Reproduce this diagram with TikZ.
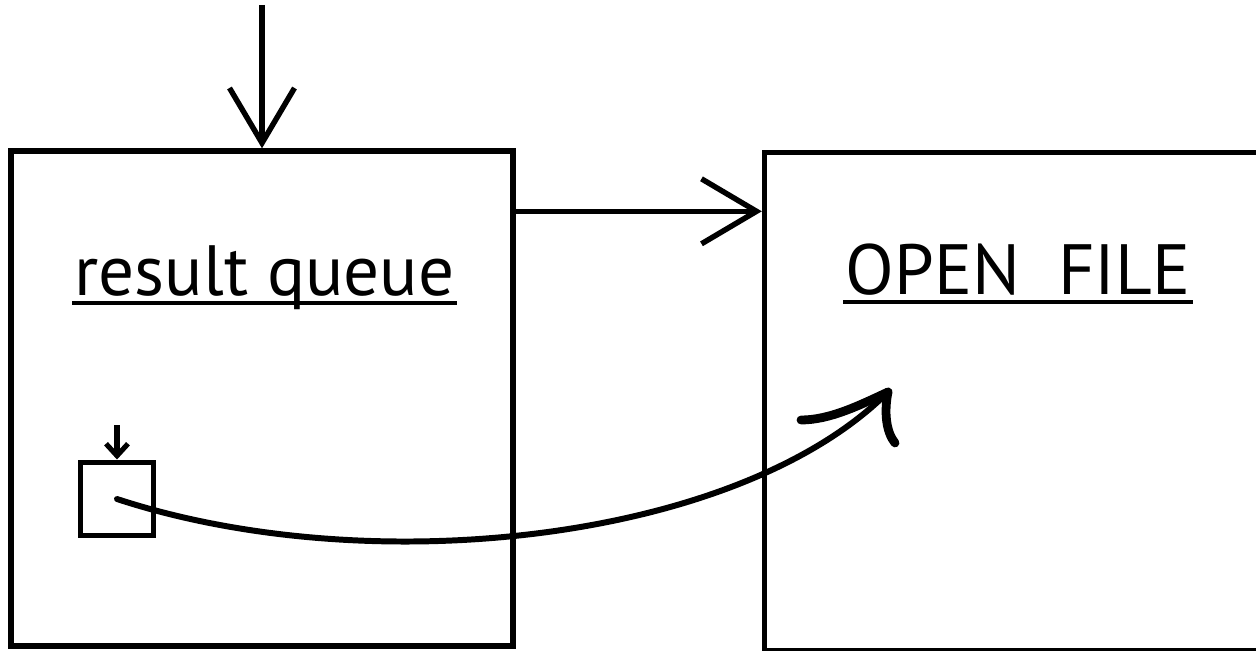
\documentclass[tikz,border=0pt]{standalone}
\usepackage{fontspec}
\setmainfont{PT Sans}
\usetikzlibrary{arrows.meta,positioning}

\tikzset{
  block/.style={draw,line width=3.1pt,minimum width=10.04cm,minimum height=9.9cm,inner sep=0pt},
  slotbox/.style={draw,line width=2.85pt,minimum size=1.48cm,inner sep=0pt},
  feed/.style={line width=3.1pt,-{Straight Barb[length=1.1cm,width=1.3cm]}},
  title/.style={font=\fontsize{40.5}{48}\selectfont,inner sep=0pt,anchor=base},
  ruled/.style={line width=1.9pt},
  barb/.style={line width=5pt,line cap=round},
}

\begin{document}
\begin{tikzpicture}[x=0.02cm,y=-0.02cm]
  \clip (0,0) rectangle (1256,651);
  % the two boxes
  \node[block] (queue) at (262,398.5) {};
  \node[block,minimum height=9.96cm] (file) at (1015.5,401.5) {};
  \node[title] (rq) at (264.5,296) {result queue};
  \node[title] (of) at (1018,295) {OPEN\ \ FILE};
  \foreach \t in {rq,of}
    \draw[ruled] ([xshift=-0.04cm,yshift=-0.14cm]\t.base west) -- ([xshift=0.04cm,yshift=-0.14cm]\t.base east);
  % incoming and outgoing
  \coordinate (in) at (262,5);
  \draw[feed] (in) -- (queue.north);
  \coordinate (out) at ([yshift=-1.26cm]queue.north east);
  \draw[feed] (out) -- (out -| file.west);
  % the slot inside the queue
  \node[slotbox] (slot) at (117,499) {};
  \coordinate (drop) at (117,425);
  \draw[line width=2.9pt,-{Straight Barb[length=0.24cm,width=0.44cm]}] (drop) -- (slot.north);
  % hand-off to the file
  \coordinate (tip) at (888,392);
  \draw[line width=3.4pt,line cap=round] (slot.center) .. controls (370,582) and (738,542) .. (tip);
  \draw[barb] (tip) .. controls (860,405) and (830,420) .. (801,420);
  \draw[barb] (tip) .. controls (884,412) and (886,432) .. (895,443);
\end{tikzpicture}
\end{document}
